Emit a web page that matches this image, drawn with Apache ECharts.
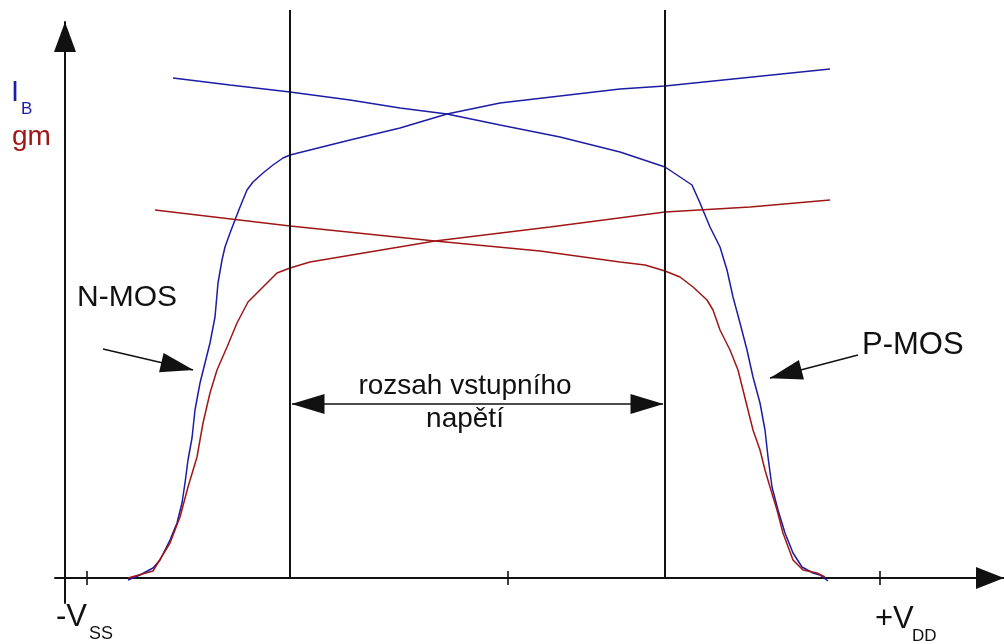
<!DOCTYPE html>
<html>
<head>
<meta charset="utf-8">
<script src="https://cdn.jsdelivr.net/npm/echarts@6/dist/echarts.min.js"></script>
<style>
  html, body { margin: 0; padding: 0; background: #fff; }
  #chart { width: 1004px; height: 644px; }
</style>
</head>
<body>
<div id="chart"></div>
<script>
// Bias current I_B and transconductance gm of the N-MOS and P-MOS input pairs
// versus common-mode input voltage (arbitrary units, -Vss ... +Vdd).

const nmosIb = [[6.3,-0.2],[7.5,0.3],[8.8,1.0],[9.5,1.8],[10.5,3.8],[11.2,5.5],[11.7,7.5],[12.0,9.5],
  [12.3,11.8],[12.7,14.0],[13.0,16.8],[13.5,19.5],[14.0,21.5],[14.5,23.5],[15.0,26.1],[15.3,29.5],
  [15.7,31.8],[16.0,33.1],[16.5,34.5],[17.0,35.8],[17.5,37.1],[18.2,38.8],[18.8,39.6],[19.8,40.5],
  [20.8,41.3],[21.8,42.0],[22.5,42.3],[28.5,43.8],[33.5,45.0],[38.2,46.4],[43.5,47.5],[49.5,48.2],
  [55.5,48.9],[60.0,49.2],[76.5,50.9]];

const pmosIb = [[10.8,50.0],[16.5,49.3],[22.5,48.6],[28.5,47.8],[33.5,47.0],[38.2,46.4],[43.5,45.3],
  [49.5,44.1],[55.5,42.6],[58.5,41.6],[60.0,41.1],[61.5,40.1],[62.7,39.3],[63.5,37.5],[64.5,35.1],
  [65.5,33.1],[66.2,30.8],[66.8,28.1],[67.5,25.5],[68.2,22.8],[68.8,20.1],[69.5,17.5],[70.0,14.8],
  [70.3,12.1],[70.7,9.1],[71.3,6.8],[72.0,4.5],[72.8,2.5],[73.7,1.1],[74.8,0.5],[75.5,0.3],[76.3,-0.3]];

const nmosGm = [[6.3,0.0],[8.8,0.7],[10.5,3.5],[11.5,6.1],[12.3,9.1],[13.2,12.1],[13.8,15.5],
  [14.5,18.5],[15.2,20.8],[16.2,23.1],[17.2,25.5],[18.3,27.6],[19.8,29.1],[21.2,30.5],[22.5,31.0],
  [24.5,31.6],[37.0,33.7],[48.5,35.1],[60.0,36.6],[68.5,37.1],[76.5,37.8]];

const pmosGm = [[9.0,36.8],[22.5,35.2],[37.0,33.7],[47.5,32.7],[55.5,31.6],[58.0,31.3],[60.0,30.7],
  [61.5,30.1],[62.8,29.1],[64.2,27.8],[64.8,26.8],[65.5,24.8],[66.5,22.8],[67.3,20.8],[67.8,18.8],
  [68.3,16.8],[68.8,14.8],[69.5,12.8],[70.0,10.8],[70.5,9.1],[71.2,6.8],[71.8,4.5],[72.8,1.8],
  [73.8,0.8],[75.2,0.5],[76.0,0.1]];

// limits of the input voltage range (where both pairs are on)
const rangeLimits = [22.5, 60.0];
const rangeLineTop = 56.8;
// marks on the voltage axis: -Vss, mid-supply, +Vdd
const axisMarks = [2.2, 44.3, 81.5];

// annotation arrows: [from, to]
const rangeArrow = [[22.7, 17.4], [59.8, 17.4]];
const nmosArrow = [[3.8, 22.9], [12.8, 20.8]];
const pmosArrow = [[79.3, 22.3], [70.5, 20.0]];

const BLUE = '#1c1ca6';
const RED = '#a01616';
const INK = '#111';
const FONT = '"Liberation Sans", Arial, sans-serif';

const chart = echarts.init(document.getElementById('chart'), null, { renderer: 'canvas' });

function curve(name, data, color) {
  return {
    name, type: 'line', data, showSymbol: false, symbol: 'none', smooth: false,
    clip: false, silent: true,
    lineStyle: { color, width: 1.5 }
  };
}

const series = [
  curve('I_B N-MOS', nmosIb, BLUE),
  curve('I_B P-MOS', pmosIb, BLUE),
  curve('gm N-MOS', nmosGm, RED),
  curve('gm P-MOS', pmosGm, RED)
];

rangeLimits.forEach((x, i) => {
  series.push({
    type: 'line', data: [[x, 0], [x, rangeLineTop]], showSymbol: false, symbol: 'none',
    clip: false, silent: true, lineStyle: { color: INK, width: 2 },
    markLine: i === 0 ? {
      silent: true, animation: false,
      label: { show: false },
      lineStyle: { color: INK, width: 1.5, type: 'solid' },
      symbol: ['triangle', 'triangle'],
      symbolSize: [20, 33],
      symbolOffset: [[0, 16], [0, 16]],
      data: [
        [{ coord: rangeArrow[0] }, { coord: rangeArrow[1] }],
        [{ coord: nmosArrow[0], symbol: 'none' }, { coord: nmosArrow[1] }],
        [{ coord: pmosArrow[0], symbol: 'none' }, { coord: pmosArrow[1] }]
      ]
    } : undefined
  });
});

series.push({
  type: 'scatter', data: axisMarks.map(x => [x, 0]), symbol: 'rect', symbolSize: [2, 14],
  itemStyle: { color: INK }, silent: true, clip: false
});

function txt(text, x, y, size, color, align) {
  return {
    type: 'text', x, y, silent: true,
    style: { text, fill: color || INK, font: size + 'px ' + FONT,
             align: align || 'left', verticalAlign: 'middle' }
  };
}

chart.setOption({
  animation: false,
  backgroundColor: '#fff',
  grid: { left: 55, right: 0, top: 22, bottom: 41, containLabel: false },
  xAxis: {
    type: 'value', min: -1, max: 93.9,
    axisLine: { onZero: true, lineStyle: { color: INK, width: 2 },
      symbol: ['none', 'triangle'], symbolSize: [22, 28], symbolOffset: [0, -14] },
    axisTick: { show: false }, axisLabel: { show: false }, splitLine: { show: false }
  },
  yAxis: {
    type: 'value', min: -2.5, max: 55.6,
    axisLine: { onZero: true, lineStyle: { color: INK, width: 2 },
      symbol: ['none', 'triangle'], symbolSize: [22, 30], symbolOffset: [0, -15] },
    axisTick: { show: false }, axisLabel: { show: false }, splitLine: { show: false }
  },
  series,
  graphic: [
    txt('I', 11, 93, 29, BLUE),
    txt('B', 21, 109, 17, BLUE),
    txt('gm', 12, 137, 28, RED),
    txt('N-MOS', 77, 298, 30),
    txt('P-MOS', 862, 345, 31),
    txt('rozsah vstupního', 465, 386, 28, INK, 'center'),
    txt('napětí', 465, 419, 28, INK, 'center'),
    txt('-V', 56, 617, 31),
    txt('SS', 89, 634, 18),
    txt('+V', 875, 619, 31),
    txt('DD', 912, 636, 17)
  ]
});
</script>
</body>
</html>
